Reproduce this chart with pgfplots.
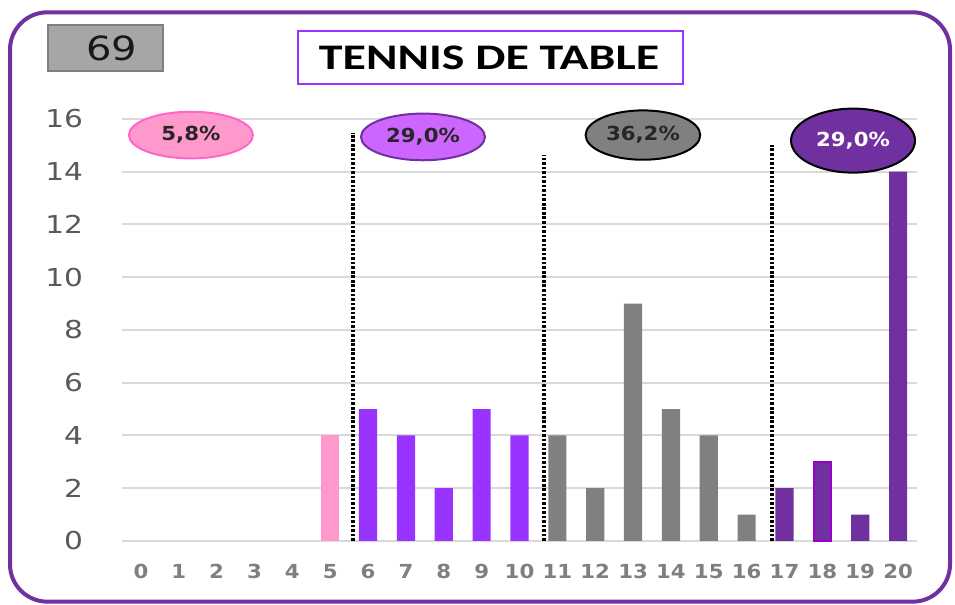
\documentclass[border=0pt]{standalone}
\usepackage{fontspec}
\usepackage{pgfplots}
\pgfplotsset{compat=1.18}
\usetikzlibrary{shapes.geometric}
\newfontfamily\dvs[FakeStretch=1.2]{DejaVu Sans}
\newfontfamily\dvsx[FakeStretch=1.1]{DejaVu Sans}
\newfontfamily\carl[FakeStretch=1.33]{Carlito}
\definecolor{pinkbar}{HTML}{FF99CC}
\definecolor{pinkedge}{HTML}{FF66CC}
\definecolor{violetbar}{HTML}{9933FF}
\definecolor{lilac}{HTML}{CC66FF}
\definecolor{greybar}{HTML}{808080}
\definecolor{darkpurple}{HTML}{7030A0}
\definecolor{magentaedge}{HTML}{9900CC}
\definecolor{gridgray}{HTML}{D9D9D9}
\definecolor{ticky}{HTML}{595959}
\definecolor{tickx}{HTML}{7F7F7F}
\definecolor{boxgray}{HTML}{A6A6A6}
\definecolor{boxedge}{HTML}{7F7F7F}
\begin{document}
\begin{tikzpicture}
\useasboundingbox (0pt,0pt) rectangle (716.25pt,453.75pt);
\draw[darkpurple, line width=3pt, rounded corners=28pt] (7.5pt,2.5pt) rectangle (712.5pt,444.5pt);
\begin{axis}[
  at={(91.5pt,48pt)}, anchor=south west,
  scale only axis, width=596.25pt, height=316.5pt,
  xmin=-0.5, xmax=20.5, ymin=0, ymax=16,
  ytick={0,2,...,16}, xtick={0,1,...,20},
  ymajorgrids, grid style={gridgray, line width=1.5pt},
  axis lines*=left, axis line style={draw=none},
  major tick length=0pt,
  clip=false,
  /pgf/number format/assume math mode=true,
  yticklabel style={font=\dvs\fontsize{18.5}{20}\selectfont, text=ticky, inner sep=0pt},
  yticklabel shift=29pt,
  xticklabel style={font=\dvsx\bfseries\fontsize{14.5}{16}\selectfont, text=tickx, inner sep=0pt},
  xticklabel shift=17pt,
]
\addplot[ybar, bar shift=0pt, bar width=0.48, fill=pinkbar, draw=none] coordinates {(5,4)};
\addplot[ybar, bar shift=0pt, bar width=0.48, fill=violetbar, draw=none] coordinates {(6,5) (7,4) (8,2) (9,5) (10,4)};
\addplot[ybar, bar shift=0pt, bar width=0.48, fill=greybar, draw=none] coordinates {(11,4) (12,2) (13,9) (14,5) (15,4) (16,1)};
\addplot[ybar, bar shift=0pt, bar width=0.48, fill=darkpurple, draw=none] coordinates {(17,2) (19,1) (20,14)};
\addplot[ybar, bar shift=0pt, bar width=0.44, fill=darkpurple, draw=magentaedge, line width=1.5pt] coordinates {(18,3)};
\addplot[black, line width=2.8pt, dash pattern=on 2pt off 1.4pt] coordinates {(5.6,0) (5.6,15.47)};
\addplot[black, line width=2.8pt, dash pattern=on 2pt off 1.4pt] coordinates {(10.65,0) (10.65,14.64)};
\addplot[black, line width=2.8pt, dash pattern=on 2pt off 1.4pt] coordinates {(16.67,0) (16.67,15.01)};
\node[ellipse, draw=pinkedge, fill=pinkbar, line width=1.5pt, minimum width=93pt, minimum height=35pt, inner sep=0pt,
  font=\dvsx\bfseries\fontsize{14.5}{16}\selectfont, text=black!85] at (axis cs:1.32,15.39) {5,8\%};
\node[ellipse, draw=darkpurple, fill=lilac, line width=1.5pt, minimum width=93pt, minimum height=35pt, inner sep=0pt,
  font=\dvsx\bfseries\fontsize{14.5}{16}\selectfont, text=black!85] at (axis cs:7.45,15.32) {29,0\%};
\node[ellipse, draw=black, fill=greybar, line width=1.5pt, minimum width=86pt, minimum height=37pt, inner sep=0pt,
  font=\dvsx\bfseries\fontsize{14.5}{16}\selectfont, text=black!85] at (axis cs:13.26,15.39) {36,2\%};
\node[ellipse, draw=black, fill=darkpurple, line width=1.5pt, minimum width=93pt, minimum height=48pt, inner sep=0pt,
  font=\dvsx\bfseries\fontsize{14.5}{16}\selectfont, text=white] at (axis cs:18.81,15.18) {29,0\%};
\end{axis}
\draw[violetbar, line width=2pt, fill=white] (223.5pt,390.75pt) rectangle (512.25pt,430.5pt);
\node[font=\carl\bfseries\fontsize{27}{30}\selectfont, text=black] at (366.75pt,410.6pt) {TENNIS DE TABLE};
\draw[fill=boxgray, draw=boxedge, line width=1pt] (36pt,400.5pt) rectangle (122.25pt,435pt);
\node[font=\dvs\fontsize{25}{28}\selectfont, text=black!90] at (84pt,417.75pt) {69};
\end{tikzpicture}
\end{document}
